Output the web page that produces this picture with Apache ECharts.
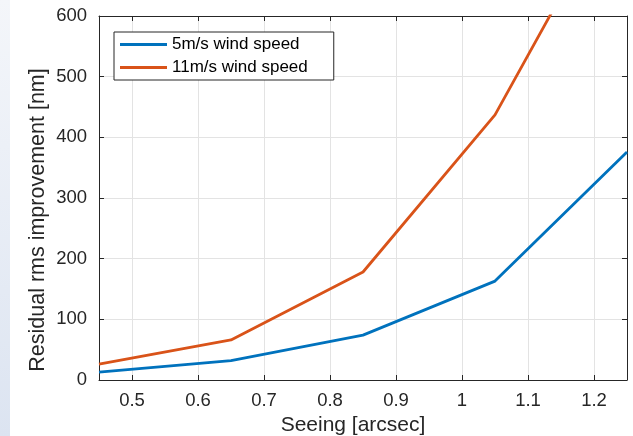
<!DOCTYPE html>
<html lang="en">
<head>
    <meta charset="UTF-8">
    <title>Seeing vs residual rms</title>
    <script type="text/javascript" src="https://cdn.jsdelivr.net/npm/echarts@6/dist/echarts.min.js"></script>
    <style>
        body { margin: 0; background: #fff; }
        #strip { position: absolute; left: 0; top: 0; width: 10px; height: 436px;
                 background: linear-gradient(#f4f6fa, #dce4f1); }
        #main { position: absolute; left: 0; top: 0; width: 633px; height: 436px; }
    </style>
</head>
<body>
<div id="strip"></div>
<div id="main"></div>

<script>
    var seeing = [0.45, 0.65, 0.85, 1.05, 1.25];
    var wind5 = [13, 32, 74, 163, 376];
    var wind11 = [26, 66, 178, 437, 830];
    var seriesNames = ['5m/s wind speed', '11m/s wind speed'];
    var colors = ['#0072BD', '#D95319'];
    var xTitle = 'Seeing [arcsec]';
    var yTitle = 'Residual rms improvement [nm]';

    function pairs(ys) {
        var out = [];
        for (var i = 0; i < seeing.length; i++) {
            out.push([seeing[i], ys[i]]);
        }
        return out;
    }

    var myChart = echarts.init(document.getElementById('main'));
    var font = 'Liberation Sans, Arial, sans-serif';
    var txt = '#262626';
    var gridLine = { show: true, lineStyle: { color: '#e3e3e3', width: 1 } };
    var axLine = { show: true, onZero: false, lineStyle: { color: '#262626', width: 1 } };
    var tick = { show: true, inside: true, length: 5, lineStyle: { color: '#262626' } };

    var option = {
        animation: false,
        color: colors,
        textStyle: { fontFamily: font },
        grid: { left: 99, right: 6, top: 16, bottom: 56, containLabel: false, outerBoundsMode: 'none' },
        // y title placed by hand: it sits a bit below the plot centre in the original
        graphic: [{
            type: 'text', x: 38, y: 220, rotation: Math.PI / 2,
            style: {
                text: yTitle, fill: txt, font: '21.5px ' + font,
                textAlign: 'center', textVerticalAlign: 'middle'
            }
        }],
        legend: {
            left: 114, top: 32, orient: 'vertical',
            data: seriesNames,
            icon: 'rect', itemWidth: 47, itemHeight: 3, itemGap: 6,
            padding: [4, 26, 4, 6],
            borderColor: '#262626', borderWidth: 1, backgroundColor: '#fff',
            textStyle: { fontSize: 17, color: '#000', fontFamily: font }
        },
        xAxis: [{
            type: 'value', min: 0.45, max: 1.25, splitNumber: 8,
            name: xTitle, nameLocation: 'middle', nameGap: 31,
            nameTextStyle: { fontSize: 21, color: txt, padding: [0, 20, 0, 0] },
            axisLine: axLine, axisTick: tick, splitLine: gridLine,
            axisLabel: { fontSize: 18.5, color: txt, margin: 11, showMinLabel: false, showMaxLabel: false }
        }, {
            type: 'value', position: 'top', min: 0.45, max: 1.25, splitNumber: 8,
            axisLine: axLine, axisTick: tick, splitLine: { show: false },
            axisLabel: { show: false }
        }],
        yAxis: [{
            type: 'value', min: 0, max: 600, interval: 100,
            axisLine: axLine, axisTick: tick, splitLine: gridLine,
            axisLabel: { fontSize: 18.5, color: txt, margin: 12 }
        }, {
            type: 'value', position: 'right', min: 0, max: 600, interval: 100,
            axisLine: axLine, axisTick: tick, splitLine: { show: false },
            axisLabel: { show: false }
        }],
        series: [{
            name: seriesNames[0], type: 'line', data: pairs(wind5),
            showSymbol: false, lineStyle: { width: 2.8 }, clip: true
        }, {
            name: seriesNames[1], type: 'line', data: pairs(wind11),
            showSymbol: false, lineStyle: { width: 2.8 }, clip: true
        }]
    };

    myChart.setOption(option);
</script>
</body>
</html>
